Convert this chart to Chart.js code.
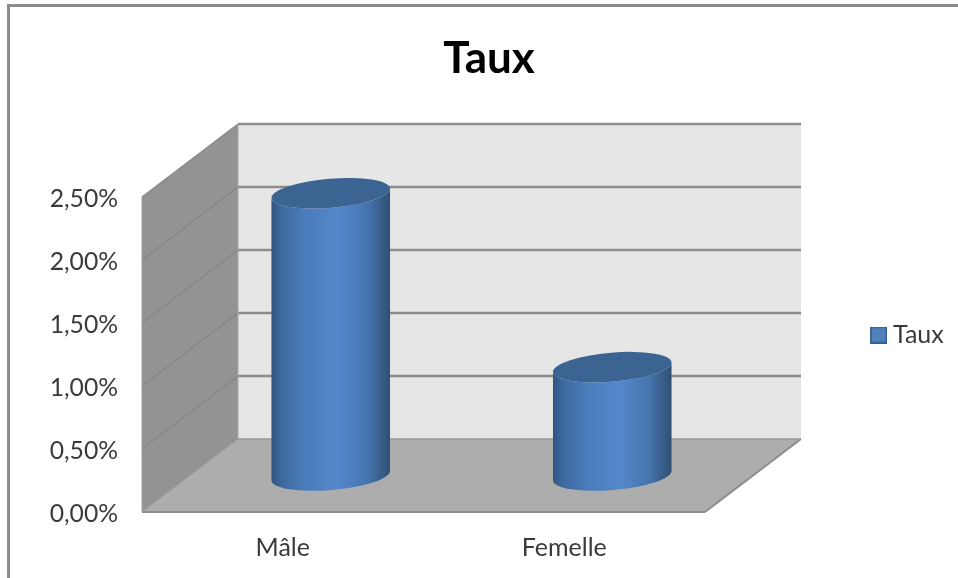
<!DOCTYPE html>
<html>
<head>
<meta charset="utf-8">
<style>
html,body{margin:0;padding:0;background:#fff;overflow:hidden}
canvas{display:block;filter:blur(0.45px)}
</style>
<script src="https://cdn.jsdelivr.net/npm/chart.js@4"></script>
</head>
<body>
<canvas id="c" width="958" height="578" style="width:958px;height:578px"></canvas>
<script>
const categories = ['Mâle', 'Femelle'];
const seriesName = 'Taux';
const values = [2.24, 0.86];
const tickLabels = ['0,00%', '0,50%', '1,00%', '1,50%', '2,00%', '2,50%'];

const DX = 96, DY = -73;           // 3D depth offset
const RX = 59.5, RY = 14.5, TILT = -4.8 * Math.PI / 180;
const TEXT = '#3a3a3a', EDGE = '#8c8c8c';
const FONT = 'Lato, Carlito, sans-serif';

// legend swatch
const swatch = document.createElement('canvas');
swatch.width = 17; swatch.height = 17;
(function () {
  const s = swatch.getContext('2d');
  s.fillStyle = '#4F81BD'; s.fillRect(0, 0, 17, 17);
  s.strokeStyle = '#385D8A'; s.lineWidth = 1.5; s.strokeRect(0.75, 0.75, 15.5, 15.5);
})();

const poly = (ctx, pts, fill) => {
  ctx.beginPath();
  pts.forEach((p, i) => i ? ctx.lineTo(p[0], p[1]) : ctx.moveTo(p[0], p[1]));
  ctx.closePath();
  ctx.fillStyle = fill; ctx.fill();
};
const line = (ctx, x1, y1, x2, y2, color, w) => {
  ctx.beginPath(); ctx.moveTo(x1, y1); ctx.lineTo(x2, y2);
  ctx.strokeStyle = color; ctx.lineWidth = w; ctx.stroke();
};

const plot3d = {
  id: 'plot3d',
  beforeLayout(chart) {
    const L = chart.legend;
    if (!L._wrapped) {
      const fit = L.fit;
      L.fit = function () { fit.call(this); this.width = 253; };
      L._wrapped = true;
      const Y = chart.scales.y, draw = Y.drawLabels;
      Y.drawLabels = function (a) {
        chart.ctx.save(); chart.ctx.translate(0, 2);
        draw.call(this, a);
        chart.ctx.restore();
      };
    }
  },
  afterLayout(chart) {
    const L = chart.legend;
    L.left = 866.5; L.right = 958; L.top = 295; L.bottom = 375;
    const T = chart.titleBlock;
    T.left += 10; T.right += 10;
  },
  beforeDraw(chart) {
    const ctx = chart.ctx;
    ctx.save();
    ctx.fillStyle = '#fff'; ctx.fillRect(0, 0, chart.width, chart.height);
    ctx.beginPath();
    ctx.moveTo(8.5, chart.height); ctx.lineTo(8.5, 5.5); ctx.lineTo(chart.width, 5.5);
    ctx.strokeStyle = EDGE; ctx.lineWidth = 3; ctx.stroke();
    ctx.restore();
  },
  beforeDatasetsDraw(chart) {
    const ctx = chart.ctx, a = chart.chartArea, y = chart.scales.y;
    const l = a.left, r = a.right, t = a.top, b = a.bottom;
    ctx.save();
    poly(ctx, [[l + DX, t + DY], [r + DX, t + DY], [r + DX, b + DY], [l + DX, b + DY]], '#E6E6E6');
    poly(ctx, [[l, t], [l + DX, t + DY], [l + DX, b + DY], [l, b]], '#939393');
    poly(ctx, [[l, b], [l + DX, b + DY], [r + DX, b + DY], [r, b]], '#ADADAD');
    y.ticks.forEach(tk => {
      const p = y.getPixelForValue(tk.value);
      if (tk.value > 0) {
        line(ctx, l, p, l + DX, p + DY, '#868686', 1.2);
        line(ctx, l + DX, p + DY, r + DX, p + DY, EDGE, 2.4);
      }
    });
    line(ctx, l + DX, t + DY, l + DX, b + DY, '#a8a8a8', 1);
    line(ctx, l, t, l, b, '#a0a0a0', 1);
    line(ctx, l, b, r, b, EDGE, 2);
    line(ctx, r, b, r + DX, b + DY, EDGE, 2);
    line(ctx, l + DX, b + DY, r + DX, b + DY, '#9a9a9a', 1.5);
    line(ctx, l, b, l + DX, b + DY, '#9a9a9a', 1);
    ctx.restore();
  },
  beforeDatasetDraw(chart, args) {
    const ctx = chart.ctx, bars = args.meta.data;
    ctx.save();
    bars.forEach(el => {
      const p = el.getProps(['x', 'y', 'base', 'width'], true);
      const cx = p.x + DX / 2;
      const topY = p.y + DY / 2, baseY = p.base + DY / 2;
      const ex = RX * Math.cos(TILT), ey = RX * Math.sin(TILT);
      const g = ctx.createLinearGradient(cx - RX, 0, cx + RX, 0);
      g.addColorStop(0, '#30547f');
      g.addColorStop(0.08, '#3d689d');
      g.addColorStop(0.28, '#4a7cba');
      g.addColorStop(0.55, '#5588cb');
      g.addColorStop(0.8, '#4676b0');
      g.addColorStop(0.93, '#385c88');
      g.addColorStop(1, '#2f4f74');
      ctx.beginPath();
      ctx.moveTo(cx - ex, topY - ey);
      ctx.ellipse(cx, topY, RX, RY, TILT, Math.PI, 0, true);
      ctx.lineTo(cx + ex, baseY + ey);
      ctx.ellipse(cx, baseY, RX, RY, TILT, 0, Math.PI, false);
      ctx.closePath();
      ctx.fillStyle = g; ctx.fill();
      ctx.beginPath();
      ctx.ellipse(cx, topY, RX, RY, TILT, 0, Math.PI * 2);
      ctx.fillStyle = '#3C6493'; ctx.fill();
    });
    ctx.restore();
    return false;
  }
};

new Chart(document.getElementById('c'), {
  type: 'bar',
  data: {
    labels: categories,
    datasets: [{ label: seriesName, data: values, backgroundColor: '#4F81BD', borderColor: '#385D8A', barThickness: 118 }]
  },
  plugins: [plot3d],
  options: {
    responsive: false,
    animation: false,
    layout: { padding: 0 },
    plugins: {
      tooltip: { enabled: false },
      title: {
        display: true, text: seriesName, color: '#000',
        font: { family: FONT, size: 44, weight: 'bold', lineHeight: 1.2 },
        padding: { top: 32, bottom: 112.2 }
      },
      legend: {
        position: 'right',
        labels: {
          color: TEXT, font: { family: FONT, size: 25 },
          usePointStyle: true, pointStyle: swatch, boxWidth: 4, boxHeight: 17, padding: 10
        }
      }
    },
    scales: {
      x: {
        afterFit(s) { s.height = 66; },
        grid: { display: false }, border: { display: false },
        ticks: { color: TEXT, font: { family: FONT, size: 25 }, padding: 13, maxRotation: 0 }
      },
      y: {
        min: 0, max: 2.5,
        afterFit(s) { s.width = 142; },
        grid: { display: false, drawTicks: false }, border: { display: false },
        ticks: {
          stepSize: 0.5, color: TEXT, padding: 24,
          font: { family: FONT, size: 24.7 },
          callback: (v, i) => tickLabels[i]
        }
      }
    }
  }
});
</script>
</body>
</html>
